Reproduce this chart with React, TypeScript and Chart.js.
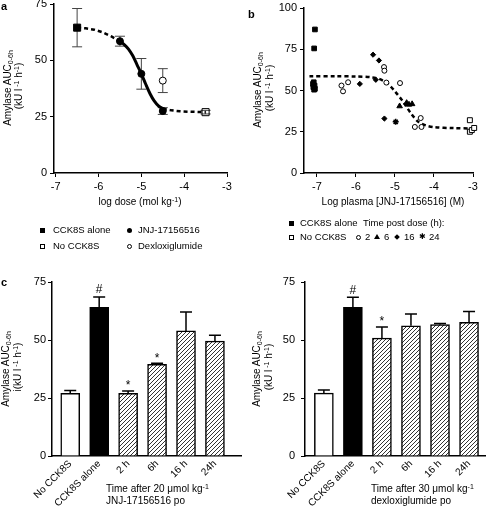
import React, { useEffect, useRef } from 'react';
import { Chart, registerables } from 'chart.js';
Chart.register(...registerables);

const FONT = "'Liberation Sans', Arial, Helvetica, sans-serif";

// ---------- Panel a : dose-response ----------
const aCckDose = [-6.5];
const aCckMean = [64.5];
const aCckErr = [8.5];
const aJnjDose = [-5.5, -5, -4.5];
const aJnjMean = [58.5, 44, 27.5];
const aJnjErr = [2.2, 6.8, 1.5];
const aDexDose = [-4.5];
const aDexMean = [41];
const aDexErr = [5.3];
const aNoCckDose = [-3.5];
const aNoCckMean = [27];
const aNoCckErr = [0.8];
const aFitLeftX = [-6.5, -6.3, -6.1, -5.9, -5.7, -5.5];
const aFitLeftY = [64.5, 64.2, 63.6, 62.4, 60.6, 58.5];
const aFitMidX = [-5.5, -5.4, -5.3, -5.2, -5.1, -5.0, -4.9, -4.8, -4.7, -4.6, -4.5];
const aFitMidY = [58.5, 57, 55, 52, 48, 44, 39.5, 35.3, 32, 29.8, 28.5];
const aFitRightX = [-4.5, -4.3, -4.1, -3.9, -3.7, -3.5];
const aFitRightY = [28.5, 27.8, 27.4, 27.2, 27.1, 27];
const aXTicks = [-7, -6, -5, -4, -3];

// ---------- Panel b : plasma concentration ----------
const bCckX = [-7.05, -7.07, -7.08, -7.1, -7.06, -7.09, -7.05, -7.07];
const bCckY = [87, 75.5, 55, 54, 53, 52, 51, 50.5];
const bNoCckX = [-3.08, -3.08, -3.03, -2.97];
const bNoCckY = [32, 25, 26, 27.3];
const b2hX = [-6.37, -6.33, -6.2, -5.28, -5.27, -5.22, -4.87, -4.49, -4.32, -4.34];
const b2hY = [53, 49.5, 55, 64.2, 62, 54.8, 54.5, 27.9, 27.9, 33.3];
const b6hX = [-4.88, -4.7, -4.64, -4.56];
const b6hY = [40.5, 42.5, 41.5, 41.8];
const b16hX = [-5.9, -5.56, -5.41, -5.49, -5.27];
const b16hY = [54, 71.7, 68.2, 56.5, 33];
const b24hX = [-4.98];
const b24hY = [31];
const bFitX = [-7.19, -6.5, -6.0, -5.6, -5.4, -5.2, -5.0, -4.8, -4.6, -4.4, -4.2, -4.0, -3.5, -3.0];
const bFitY = [58.6, 58.6, 58.5, 58, 57, 54.5, 49.5, 43.5, 36.5, 31, 28.8, 27.8, 27.2, 27];
const bXTicks = [-7, -6, -5, -4, -3];

// ---------- Panel c : bars ----------
const cCategories = ['No CCK8S', 'CCK8S alone', '2 h', '6h', '16 h', '24h'];
const cJnjMean = [27, 64.1, 27, 39.5, 53.9, 49.5];
const cJnjErr = [1.2, 4.4, 1.0, 0.5, 8.2, 2.5];
const cJnjMarks = ['', '#', '*', '*', '', ''];
const cDexMean = [27.1, 64.1, 50.8, 56.1, 56.6, 57.6];
const cDexErr = [1.3, 4.3, 4.8, 5.1, 0.5, 4.7];
const cDexMarks = ['', '#', '*', '', '', ''];

const pts = (xs: number[], ys: number[]) => xs.map((x, i) => ({ x, y: ys[i] }));

function yAxis(width: number, max: number, pad: number) {
  return {
    type: 'linear',
    min: 0,
    max,
    ticks: { stepSize: 25, color: '#000', font: { family: FONT, size: 11 }, padding: pad },
    grid: { display: true, drawOnChartArea: false, drawTicks: true, tickLength: 4, color: '#000', lineWidth: 1 },
    border: { display: true, color: '#000', width: 1.5 },
    afterFit: (s: any) => { s.width = width; },
  };
}

function xLinear(min: number, max: number, ticks: number[], height: number) {
  return {
    type: 'linear',
    min,
    max,
    afterBuildTicks: (s: any) => { s.ticks = ticks.map((value) => ({ value })); },
    ticks: { color: '#000', font: { family: FONT, size: 11 }, padding: 3, autoSkip: false, maxRotation: 0 },
    grid: { display: true, drawOnChartArea: false, drawTicks: true, tickLength: 4, color: '#000', lineWidth: 1 },
    border: { display: true, color: '#000', width: 1.5 },
    afterFit: (s: any) => { s.height = height; },
  };
}

const baseOpts = (top: number, right: number) => ({
  responsive: false,
  animation: false,
  devicePixelRatio: 1,
  events: [],
  layout: { padding: { top, right, left: 0, bottom: 0 } },
  plugins: { legend: { display: false }, tooltip: { enabled: false } },
});

function scatterErrPlugin(sets: [number[], number[], number[]][]) {
  return {
    id: 'scatterErr',
    beforeDatasetsDraw(chart: any) {
      const { ctx, scales } = chart;
      const x = scales.x, y = scales.y;
      ctx.save();
      ctx.strokeStyle = '#444';
      ctx.lineWidth = 1;
      sets.forEach(([xs, ms, es]) => {
        xs.forEach((xv, i) => {
          const px = x.getPixelForValue(xv);
          const y1 = y.getPixelForValue(ms[i] - es[i]);
          const y2 = y.getPixelForValue(ms[i] + es[i]);
          ctx.beginPath();
          ctx.moveTo(px, y1); ctx.lineTo(px, y2);
          ctx.moveTo(px - 5, y1); ctx.lineTo(px + 5, y1);
          ctx.moveTo(px - 5, y2); ctx.lineTo(px + 5, y2);
          ctx.stroke();
        });
      });
      ctx.restore();
    },
  };
}

function makeA() {
  const dashed = { borderColor: '#000', borderWidth: 2.5, borderDash: [4, 3], pointRadius: 0, showLine: true, fill: false, order: 2 };
  return {
    type: 'scatter',
    data: {
      datasets: [
        { data: pts(aCckDose, aCckMean), pointStyle: 'rect', pointRadius: 5, backgroundColor: '#000', borderColor: '#000', order: 0 },
        { data: pts(aJnjDose, aJnjMean), pointStyle: 'circle', pointRadius: 3.5, backgroundColor: '#000', borderColor: '#000', order: 0 },
        { data: pts(aDexDose, aDexMean), pointStyle: 'circle', pointRadius: 3.5, backgroundColor: '#fff', borderColor: '#000', borderWidth: 1, order: 0 },
        { data: pts(aNoCckDose, aNoCckMean), pointStyle: 'rect', pointRadius: 5, backgroundColor: 'rgba(255,255,255,0)', borderColor: '#000', borderWidth: 1, order: 0 },
        { ...dashed, data: pts(aFitLeftX, aFitLeftY) },
        { data: pts(aFitMidX, aFitMidY), borderColor: '#000', borderWidth: 3, pointRadius: 0, showLine: true, fill: false, order: 1, tension: 0.3 },
        { ...dashed, data: pts(aFitRightX, aFitRightY) },
      ],
    },
    options: {
      ...baseOpts(14, 16),
      scales: { x: xLinear(-7.04, -3, aXTicks, 27), y: yAxis(54, 75, 3) },
    },
    plugins: [scatterErrPlugin([
      [aCckDose, aCckMean, aCckErr],
      [aJnjDose, aJnjMean, aJnjErr],
      [aDexDose, aDexMean, aDexErr],
      [aNoCckDose, aNoCckMean, aNoCckErr],
    ])],
  };
}

function makeB() {
  return {
    type: 'scatter',
    data: {
      datasets: [
        { data: pts(bCckX, bCckY), pointStyle: 'rect', pointRadius: 3.3, backgroundColor: '#000', borderColor: '#000', clip: false, order: 0 },
        { data: pts(bNoCckX, bNoCckY), pointStyle: 'rect', pointRadius: 3.5, backgroundColor: '#fff', borderColor: '#000', borderWidth: 1, clip: false, order: 0 },
        { data: pts(b2hX, b2hY), pointStyle: 'circle', pointRadius: 2.5, backgroundColor: '#fff', borderColor: '#000', borderWidth: 1, order: 0 },
        { data: pts(b6hX, b6hY), pointStyle: 'triangle', pointRadius: 3.2, backgroundColor: '#000', borderColor: '#000', order: 0 },
        { data: pts(b16hX, b16hY), pointStyle: 'rectRot', pointRadius: 2.6, backgroundColor: '#000', borderColor: '#000', order: 0 },
        { data: pts(b24hX, b24hY), pointStyle: 'star', pointRadius: 3, backgroundColor: '#000', borderColor: '#000', borderWidth: 1.5, order: 0 },
        { data: pts(bFitX, bFitY), borderColor: '#000', borderWidth: 2.5, borderDash: [4, 3], pointRadius: 0, showLine: true, fill: false, tension: 0.3, order: 1, clip: false },
      ],
    },
    options: {
      ...baseOpts(18, 13),
      scales: { x: xLinear(-7.33, -3, bXTicks, 27), y: yAxis(61, 100, 3) },
    },
  };
}

function makeHatch() {
  const c = document.createElement('canvas');
  c.width = 4; c.height = 4;
  const g = c.getContext('2d')!;
  g.fillStyle = '#fff';
  g.fillRect(0, 0, 4, 4);
  g.strokeStyle = '#333';
  g.lineWidth = 1;
  g.beginPath();
  g.moveTo(0, 4); g.lineTo(4, 0);
  g.moveTo(-1, 1); g.lineTo(1, -1);
  g.moveTo(3, 5); g.lineTo(5, 3);
  g.stroke();
  return g.createPattern(c, 'repeat');
}

function barErrPlugin(means: number[], errs: number[], marks: string[]) {
  return {
    id: 'barErr',
    afterDatasetsDraw(chart: any) {
      const { ctx, scales } = chart;
      const x = scales.x, y = scales.y;
      ctx.save();
      ctx.strokeStyle = '#000';
      ctx.lineWidth = 1.5;
      ctx.fillStyle = '#000';
      ctx.textAlign = 'center';
      ctx.textBaseline = 'bottom';
      ctx.font = `12px ${FONT}`;
      means.forEach((m, i) => {
        const px = x.getPixelForValue(i);
        const y1 = y.getPixelForValue(m);
        const y2 = y.getPixelForValue(m + errs[i]);
        ctx.beginPath();
        ctx.moveTo(px, y1); ctx.lineTo(px, y2);
        ctx.moveTo(px - 6, y2); ctx.lineTo(px + 6, y2);
        ctx.stroke();
        if (marks[i]) ctx.fillText(marks[i], px, y2 - (marks[i] === '*' ? -1 : 1));
      });
      ctx.restore();
    },
  };
}

function makeC(means: number[], errs: number[], marks: string[], yWidth: number, xMin: number, xMax: number, right: number, yPad: number) {
  return () => {
    const hatch = makeHatch();
    const colors = means.map((_, i) => (i === 0 ? '#fff' : i === 1 ? '#000' : hatch));
    return {
      type: 'bar',
      data: {
        datasets: [
          {
            data: means.map((m, i) => ({ x: i, y: m })),
            backgroundColor: colors,
            borderColor: '#000',
            borderWidth: 1.5,
            barThickness: 19,
            borderSkipped: 'bottom',
          },
        ],
      },
      options: {
        ...baseOpts(20, right),
        scales: {
          x: {
            type: 'linear',
            min: xMin,
            max: xMax,
            offset: false,
            afterBuildTicks: (s: any) => { s.ticks = cCategories.map((_, i) => ({ value: i })); },
            ticks: {
              color: '#000',
              font: { family: FONT, size: 10 },
              padding: 2,
              autoSkip: false,
              minRotation: 45,
              maxRotation: 45,
              callback: (v: any) => cCategories[Math.round(Number(v))],
            },
            grid: { display: false, drawTicks: false },
            border: { display: true, color: '#000', width: 1.5 },
            afterFit: (s: any) => { s.height = 56; },
          },
          y: yAxis(yWidth, 75, yPad),
        },
      },
      plugins: [barErrPlugin(means, errs, marks)],
    };
  };
}

function ChartBox({ x, y, w, h, make }: { x: number; y: number; w: number; h: number; make: () => any }) {
  const ref = useRef<HTMLCanvasElement>(null);
  useEffect(() => {
    const chart = new Chart(ref.current as HTMLCanvasElement, make());
    return () => chart.destroy();
  }, []);
  return <canvas ref={ref} width={w} height={h} style={{ position: 'absolute', left: x, top: y, width: w, height: h }} />;
}

const subS: React.CSSProperties = { fontSize: '0.7em', verticalAlign: '-0.3em', lineHeight: 0 };
const supS: React.CSSProperties = { fontSize: '0.7em', verticalAlign: '0.5em', lineHeight: 0 };

function Txt({ x, y, children, size = 10, anchor = 'left', bold = false }: any) {
  const tx = anchor === 'left' ? '0' : anchor === 'right' ? '-100%' : '-50%';
  return (
    <div style={{ position: 'absolute', left: x, top: y, transform: `translate(${tx},-50%)`, whiteSpace: 'nowrap', fontSize: size, lineHeight: 1, fontWeight: bold ? 'bold' : 'normal' }}>
      {children}
    </div>
  );
}

function VTxt({ x, y, children, size = 10 }: any) {
  return (
    <div style={{ position: 'absolute', left: x, top: y, transform: 'translate(-50%,-50%) rotate(-90deg)', whiteSpace: 'nowrap', fontSize: size, lineHeight: 1 }}>
      {children}
    </div>
  );
}

function Marker({ x, y, kind }: { x: number; y: number; kind: string }) {
  const s = 5;
  const base: React.CSSProperties = { position: 'absolute', left: x - s / 2, top: y - s / 2, width: s, height: s, boxSizing: 'border-box' };
  if (kind === 'sq') return <div style={{ ...base, background: '#000' }} />;
  if (kind === 'osq') return <div style={{ ...base, border: '1px solid #000' }} />;
  if (kind === 'dot') return <div style={{ ...base, background: '#000', borderRadius: '50%' }} />;
  if (kind === 'odot') return <div style={{ ...base, border: '1px solid #000', borderRadius: '50%' }} />;
  if (kind === 'tri')
    return <div style={{ position: 'absolute', left: x - 3, top: y - 3, width: 0, height: 0, borderLeft: '3px solid transparent', borderRight: '3px solid transparent', borderBottom: '5px solid #000' }} />;
  if (kind === 'dia') return <div style={{ position: 'absolute', left: x - 2, top: y - 2, width: 4, height: 4, background: '#000', transform: 'rotate(45deg)' }} />;
  return <div style={{ position: 'absolute', left: x, top: y, transform: 'translate(-50%,-50%)', fontSize: 8, lineHeight: 1 }}>✱</div>;
}

const yTitle1 = (<span>Amylase AUC<sub style={subS}>0-6h</sub></span>);
const yTitle2 = (pre: string) => (<span>{pre}(kU l<sup style={supS}> -1</sup> h<sup style={supS}>-1</sup>)</span>);

const LG = 9.5;

export default function App() {
  return (
    <div style={{ position: 'absolute', left: 0, top: 0, width: 486, height: 512, background: '#fff', overflow: 'hidden', fontFamily: FONT, color: '#000' }}>
      <ChartBox x={0} y={-10} w={243} h={210} make={makeA} />
      <ChartBox x={243} y={-10} w={243} h={210} make={makeB} />
      <ChartBox x={0} y={262} w={243} h={250} make={makeC(cJnjMean, cJnjErr, cJnjMarks, 52, -0.63, 5.9, 2, 2)} />
      <ChartBox x={243} y={262} w={243} h={250} make={makeC(cDexMean, cDexErr, cDexMarks, 62, -0.65, 5.55, 1, 6)} />

      {/* panel letters */}
      <Txt x={1} y={6} size={11} bold>a</Txt>
      <Txt x={248} y={14} size={11} bold>b</Txt>
      <Txt x={1} y={282} size={11} bold>c</Txt>

      {/* panel a texts */}
      <VTxt x={8} y={88}>{yTitle1}</VTxt>
      <VTxt x={19} y={86}>{yTitle2('')}</VTxt>
      <Txt x={140} y={202} anchor="middle">log dose (mol kg<sup style={supS}>-1</sup>)</Txt>
      <Marker x={42} y={230} kind="sq" />
      <Txt x={53} y={230} size={LG}>CCK8S alone</Txt>
      <Marker x={129} y={230} kind="dot" />
      <Txt x={138} y={230} size={LG}>JNJ-17156516</Txt>
      <Marker x={42} y={246} kind="osq" />
      <Txt x={53} y={246} size={LG}>No CCK8S</Txt>
      <Marker x={129} y={246} kind="odot" />
      <Txt x={138} y={246} size={LG}>Dexloxiglumide</Txt>

      {/* panel b texts */}
      <VTxt x={258} y={90}>{yTitle1}</VTxt>
      <VTxt x={270} y={88}>{yTitle2('')}</VTxt>
      <Txt x={393} y={202} anchor="middle">Log plasma [JNJ-17156516] (M)</Txt>
      <Marker x={291} y={223} kind="sq" />
      <Txt x={300} y={223} size={LG}>CCK8S alone</Txt>
      <Txt x={363} y={223} size={LG}>Time post dose (h):</Txt>
      <Marker x={291} y={237} kind="osq" />
      <Txt x={300} y={237} size={LG}>No CCK8S</Txt>
      <Marker x={358} y={237} kind="odot" />
      <Txt x={365} y={237} size={LG}>2</Txt>
      <Marker x={377} y={237} kind="tri" />
      <Txt x={384} y={237} size={LG}>6</Txt>
      <Marker x={397} y={237} kind="dia" />
      <Txt x={404} y={237} size={LG}>16</Txt>
      <Marker x={422} y={237} kind="star" />
      <Txt x={429} y={237} size={LG}>24</Txt>

      {/* panel c texts */}
      <VTxt x={6} y={369}>{yTitle1}</VTxt>
      <VTxt x={18} y={367}>{yTitle2('i')}</VTxt>
      <Txt x={106} y={489}>Time after 20 <span>μ</span>mol kg<sup style={supS}>-1</sup></Txt>
      <Txt x={106} y={501}>JNJ-17156516 po</Txt>

      <VTxt x={257} y={369}>{yTitle1}</VTxt>
      <VTxt x={269} y={367}>{yTitle2('')}</VTxt>
      <Txt x={371} y={489}>Time after 30 <span>μ</span>mol kg<sup style={supS}>-1</sup></Txt>
      <Txt x={371} y={501}>dexloxiglumide po</Txt>
    </div>
  );
}
